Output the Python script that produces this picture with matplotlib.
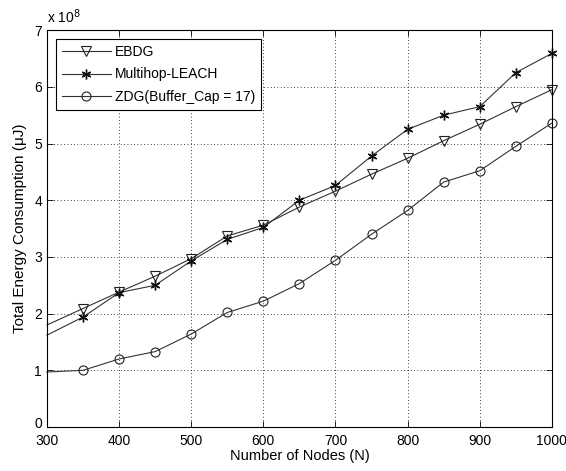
import matplotlib
matplotlib.use("Agg")
import matplotlib.pyplot as plt
import matplotlib.transforms as mtransforms

nodes = [300, 350, 400, 450, 500, 550, 600, 650, 700, 750, 800, 850, 900, 950, 1000]
ebdg = [1.80, 2.09, 2.38, 2.66, 2.97, 3.37, 3.56, 3.88, 4.16, 4.46, 4.74, 5.05, 5.34, 5.65, 5.95]
multihop = [1.62, 1.94, 2.37, 2.50, 2.93, 3.31, 3.52, 4.00, 4.26, 4.78, 5.25, 5.50, 5.65, 6.25, 6.59]
zdg = [0.97, 1.00, 1.20, 1.33, 1.64, 2.02, 2.22, 2.53, 2.94, 3.40, 3.82, 4.32, 4.52, 4.95, 5.36]
labels = ["EBDG", "Multihop-LEACH", "ZDG(Buffer_Cap = 17)"]
xticks = [300, 400, 500, 600, 700, 800, 900, 1000]
yticks = [0, 1, 2, 3, 4, 5, 6, 7]

plt.rcParams['font.family'] = ['Liberation Sans', 'DejaVu Sans']
fig = plt.figure(figsize=(5.66, 4.71), dpi=100)
ax = fig.add_axes([0.083, 0.0934, 0.892, 0.8426])

me = list(range(1, len(nodes)))
lc = '#333333'
ax.plot(nodes, ebdg, color=lc, lw=0.8, marker='v', ms=7.5, mfc='none', mec='#222222', mew=0.8, markevery=me, clip_on=False, label=labels[0])
ax.plot(nodes, multihop, color=lc, lw=0.8, marker=(6, 2, 0), ms=7, mec='#111111', mew=1.0, markevery=me, clip_on=False, label=labels[1])
ax.plot(nodes, zdg, color=lc, lw=0.8, marker='o', ms=6.5, mfc='none', mec='#222222', mew=0.8, markevery=me, clip_on=False, label=labels[2])

ax.set_xlim(300, 1000)
ax.set_ylim(0, 7)
ax.set_xticks(xticks)
ax.set_yticks(yticks)
ax.tick_params(direction='in', top=True, right=True, labelsize=10, length=4, width=0.6)
ax.tick_params(axis='x', pad=5)
ax.grid(True, linestyle=(0, (1, 3)), color='black', lw=0.6)
for s in ax.spines.values():
    s.set_linewidth(0.8)
ax.set_xlabel("Number of Nodes (N)", fontsize=10.5, labelpad=1)
ax.set_ylabel("Total Energy Consumption (\u03bcJ)", fontsize=11, labelpad=5)
ax.text(0.0, 1.01, "x 10$^{8}$", transform=ax.transAxes, fontsize=10, ha='left', va='bottom')

fig.canvas.draw()
ylab0 = ax.get_yticklabels()[0]
ylab0.set_transform(ylab0.get_transform() + mtransforms.ScaledTranslation(0, 3 / 72, fig.dpi_scale_trans))

leg = ax.legend(loc='upper left', bbox_to_anchor=(0.012, 0.985), fontsize=10, frameon=True, fancybox=False,
                edgecolor='black', framealpha=1, borderpad=0.45, labelspacing=0.6, handlelength=3.5, handletextpad=0.3,
                borderaxespad=0.2)
leg.get_frame().set_linewidth(0.8)

fig.savefig("out.png", dpi=100)
